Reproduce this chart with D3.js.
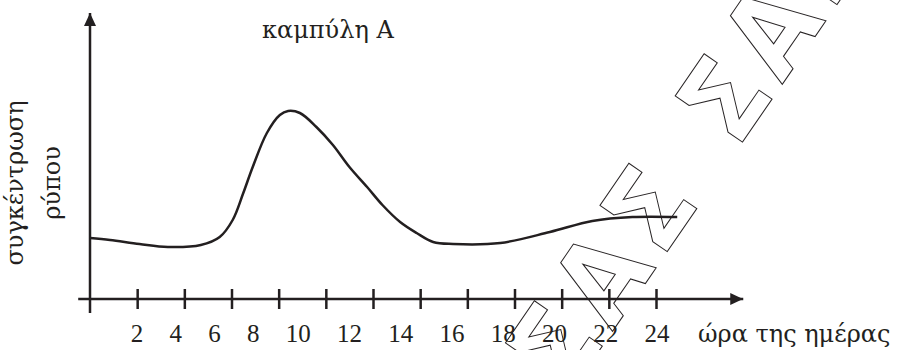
<!DOCTYPE html>
<html>
<head>
<meta charset="utf-8">
<script src="https://cdn.jsdelivr.net/npm/d3@7"></script>
<style>
	body { margin: 0; background: #fff; }
</style>
</head>
<body>
<svg id="chart" width="900" height="350"></svg>
<script>

// ώρα (σε μονάδες της κλίμακας των γραμμών του άξονα)
var hours = [0, 0.85, 2.1, 3.3, 4.7, 5.5, 6.05, 6.5, 6.9, 7.5, 8.05, 8.4, 8.9, 9.6, 10.3, 11.0, 11.75, 12.4, 13.15, 13.85, 14.55, 15.4, 17.4, 19.5, 21.3, 23.0, 24.9];
// συγκέντρωση ρύπου (αυθαίρετες μονάδες)
var pollution = [3.05, 2.95, 2.75, 2.6, 2.7, 3.1, 3.95, 5.3, 6.6, 8.3, 9.2, 9.4, 9.3, 8.6, 7.7, 6.6, 5.6, 4.7, 3.85, 3.3, 2.85, 2.75, 2.8, 3.35, 3.9, 4.1, 4.1];

var tickHours = [2, 4, 6, 8, 10, 12, 14, 16, 18, 20, 22, 24];
var tickLabels = ["2", "4", "6", "8", "10", "12", "14", "16", "18", "20", "22", "24"];

var title = "καμπύλη Α";
var xTitle = "ώρα της ημέρας";
var yTitle = ["συγκέντρωση", "ρύπου"];
var watermark = "ΣΑΣ ΣΑΣ";

var ink = "#231f20";

var svg = d3.select("#chart");

var x = d3.scaleLinear().domain([0, 24]).range([90, 656]);
var y = d3.scaleLinear().domain([0, 14]).range([299, 19]);

// Greek text: Liberation Serif here has no Greek glyphs
function greek(sel)	{
	return sel
		.attr("font-family", "'DejaVu Serif', serif")
		.attr("font-size", 24)
		.attr("fill", ink);
}

// watermark (outlined letters)
svg.append("text")
	.attr("transform", "translate(722,172) rotate(-55.5)")
	.attr("text-anchor", "middle")
	.attr("font-family", "'DejaVu Sans Condensed', 'DejaVu Sans', sans-serif")
	.attr("font-weight", "bold")
	.attr("font-size", 112)
	.attr("letter-spacing", 10)
	.attr("word-spacing", 9)
	.attr("fill", "none")
	.attr("stroke", ink)
	.attr("stroke-width", 1)
	.text(watermark);

// arrow heads
svg.append("defs").append("marker")
	.attr("id", "arrow")
	.attr("viewBox", "0 0 13 12")
	.attr("refX", 13)
	.attr("refY", 6)
	.attr("markerWidth", 13)
	.attr("markerHeight", 12)
	.attr("markerUnits", "userSpaceOnUse")
	.attr("orient", "auto")
	.append("path")
	.attr("d", "M0,0 L13,6 L0,12 Z")
	.attr("fill", ink);

// y axis
svg.append("line")
	.attr("x1", x(0)).attr("x2", x(0))
	.attr("y1", y(-0.7)).attr("y2", y(14.3))
	.attr("stroke", ink)
	.attr("stroke-width", 2.5)
	.attr("marker-end", "url(#arrow)");

// x axis
svg.append("line")
	.attr("x1", x(-0.5)).attr("x2", x(27.7))
	.attr("y1", y(0)).attr("y2", y(0))
	.attr("stroke", ink)
	.attr("stroke-width", 2.5)
	.attr("marker-end", "url(#arrow)");

var xAxis = d3.axisBottom(x)
	.tickValues(tickHours)
	.tickSizeOuter(0)
	.tickFormat("");

var gx = svg.append("g")
	.attr("transform", `translate(0,${y(0)})`)
	.call(xAxis);

gx.select(".domain").remove();
gx.selectAll(".tick line")
	.attr("y1", -10)
	.attr("y2", 10)
	.attr("stroke", ink)
	.attr("stroke-width", 2.5);

// tick labels, typed as one line of text
svg.append("text")
	.attr("font-family", "'Liberation Serif', 'Times New Roman', serif")
	.attr("font-size", 25)
	.attr("fill", ink)
	.attr("x", x(tickHours[0]) - 6.5)
	.attr("y", 342)
	.attr("word-spacing", 20)
	.text(tickLabels.join(" "));

svg.append("text")
	.call(greek)
	.attr("x", 698)
	.attr("y", 342)
	.text(xTitle);

svg.append("text")
	.call(greek)
	.attr("x", 262)
	.attr("y", 38)
	.text(title);

yTitle.forEach( (t, i) => {
	svg.append("text")
		.call(greek)
		.attr("transform", `translate(${23 + i * 37},183) rotate(-90)`)
		.attr("text-anchor", "middle")
		.text(t);
});

// curve
var line = d3.line()
	.x( (d, i) => x(hours[i]) )
	.y( d => y(d) )
	.curve(d3.curveCatmullRom.alpha(0.5));

svg.append("path")
	.datum(pollution)
	.attr("d", line)
	.attr("fill", "none")
	.attr("stroke", ink)
	.attr("stroke-width", 2.5);

</script>
</body>
</html>
